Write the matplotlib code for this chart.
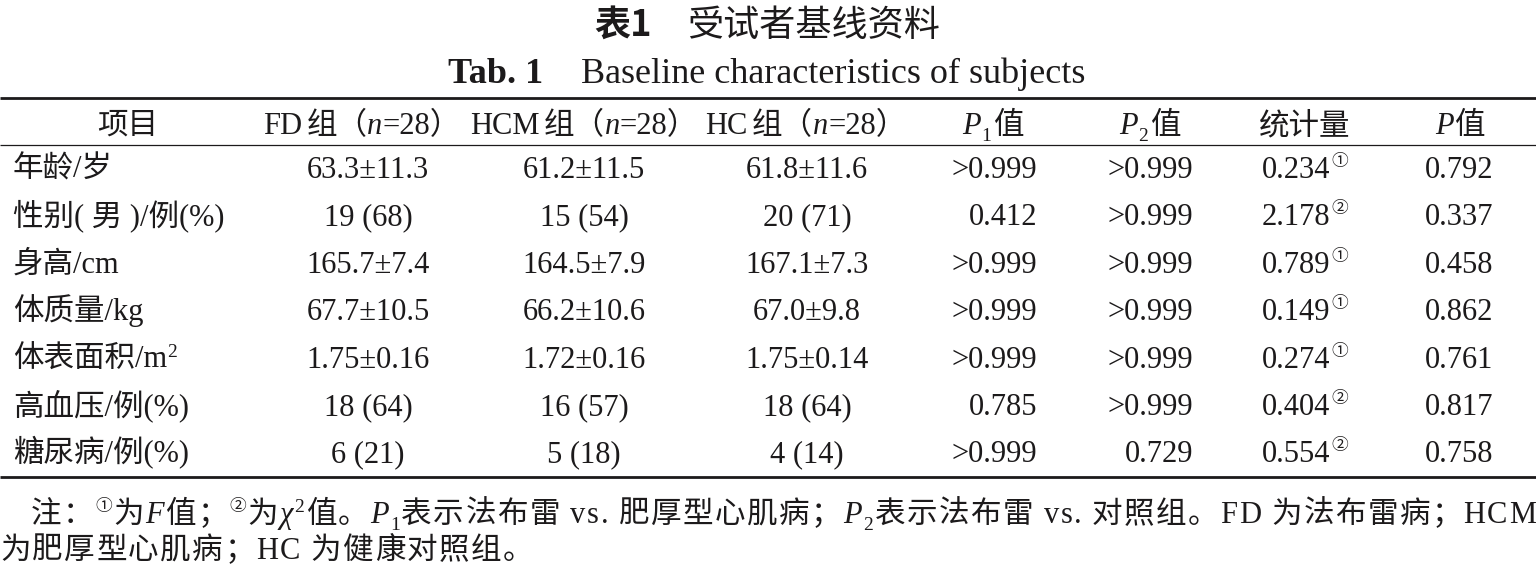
import matplotlib
matplotlib.use("Agg")
import matplotlib.pyplot as plt

# ---- table content ----
TITLE_CN = ("表1", "受试者基线资料")
TITLE_EN = ("Tab. 1", "Baseline characteristics of subjects")

ITEMS = ["年龄/岁", "性别( 男 )/例(%)", "身高/cm", "体质量/kg",
         "体表面积/m", "高血压/例(%)", "糖尿病/例(%)"]
ITEM_SUP = ["", "", "", "", "2", "", ""]

FD = ["63.3±11.3", "19 (68)", "165.7±7.4", "67.7±10.5", "1.75±0.16", "18 (64)", "6 (21)"]
HCM = ["61.2±11.5", "15 (54)", "164.5±7.9", "66.2±10.6", "1.72±0.16", "16 (57)", "5 (18)"]
HC = ["61.8±11.6", "20 (71)", "167.1±7.3", "67.0±9.8", "1.75±0.14", "18 (64)", "4 (14)"]
P1 = [">0.999", "0.412", ">0.999", ">0.999", ">0.999", "0.785", ">0.999"]
P2 = [">0.999", ">0.999", ">0.999", ">0.999", ">0.999", ">0.999", "0.729"]
STAT = ["0.234", "2.178", "0.789", "0.149", "0.274", "0.404", "0.554"]
STAT_MARK = ["①", "②", "①", "①", "①", "②", "②"]
PVAL = ["0.792", "0.337", "0.458", "0.862", "0.761", "0.817", "0.758"]

N_GROUP = "28"

NOTE_1 = [("注：", "rm"), ("①", "mark"), ("为", "rm"), ("F", "it"), ("值；", "rm"),
          ("②", "mark"), ("为", "rm"), ("χ", "it"), ("2", "sup"), ("值。", "rm"),
          ("P", "it"), ("1", "sub"), ("表示法布雷 vs. 肥厚型心肌病；", "rm"),
          ("P", "it"), ("2", "sub"), ("表示法布雷 vs. 对照组。FD 为法布雷病；HCM", "rm")]
NOTE_2 = [("为肥厚型心肌病；HC 为健康对照组。", "rm")]

# ---- styles ----
INK = "#1c1a1b"
FAM = ["Liberation Serif", "Noto Sans CJK SC"]
BODY = 22
ST = {
    "rm": dict(family=FAM, size=BODY),
    "it": dict(family=FAM, size=BODY, style="italic"),
    "sub": dict(family=FAM, size=14),
    "sup": dict(family=FAM, size=14),
    "mark": dict(family=["Noto Sans CJK SC"], size=12, weight="light"),
    "t_bold": dict(family=["Noto Sans CJK SC"], size=26, weight="bold"),
    "t_rm": dict(family=["Noto Sans CJK SC"], size=26, weight="light"),
    "e_bold": dict(family=FAM, size=26, weight="bold"),
    "e_rm": dict(family=FAM, size=26),
}
OFFS = {"sub": -7, "sup": 11, "mark": 12}

W, H = 1536, 577
fig = plt.figure(figsize=(W / 100, H / 100), dpi=100)
ax = fig.add_axes([0, 0, 1, 1])
ax.set_xlim(0, W)
ax.set_ylim(H, 0)
ax.axis("off")
renderer = fig.canvas.get_renderer()


def runs(x, y, parts, ha="left", track=0.0, width=None):
    """draw one line of styled pieces; a number in parts is a gap in px.
    track = extra px between characters; width = justify line to this width"""
    items = []
    for p in parts:
        if isinstance(p, (int, float)):
            items.append((None, p))
            continue
        s, st = p
        chunks = list(s) if (track or width) else [s]
        for c in chunks:
            t = ax.text(0, y - OFFS.get(st, 0), c, ha="left", va="baseline",
                        color=INK, **ST[st])
            items.append((t, t.get_window_extent(renderer).width))
    natural = sum(w for _, w in items)
    if width is not None:
        track = (width - natural) / max(len(items) - 1, 1)
    total = natural + track * (len(items) - 1)
    x0 = x - {"left": 0, "center": total / 2, "right": total}[ha]
    for a, w in items:
        if a is not None:
            a.set_x(x0)
        x0 += w + track
    return track


# titles
runs(767, 36, [(TITLE_CN[0], "t_bold"), 36, (TITLE_CN[1], "t_rm")], ha="center")
runs(767, 83, [(TITLE_EN[0], "e_bold"), 38, (TITLE_EN[1], "e_rm")], ha="center")

# rules
ax.hlines(98, 0, W, color=INK, lw=2.0)
ax.hlines(145, 0, W, color=INK, lw=0.9)
ax.hlines(477, 0, W, color=INK, lw=2.0)

# header
yh = 134
runs(128, yh, [("项目", "rm")], ha="center")
for xc, g in [(362, "FD"), (584, "HCM"), (806, "HC")]:
    runs(xc, yh, [(g, "rm"), 4, ("组（", "rm"), ("n", "it"), ("=" + N_GROUP + "）", "rm")],
         ha="center")
runs(993, yh, [("P", "it"), ("1", "sub"), 2, ("值", "rm")], ha="center")
runs(1150, yh, [("P", "it"), ("2", "sub"), 2, ("值", "rm")], ha="center")
runs(1305, yh, [("统计量", "rm")], ha="center")
runs(1460, yh, [("P", "it"), ("值", "rm")], ha="center")

# body rows
y0, dy = 178, 47.4
for i in range(len(ITEMS)):
    y = y0 + i * dy
    lab = [(ITEMS[i], "rm")]
    if ITEM_SUP[i]:
        lab.append((ITEM_SUP[i], "sup"))
    runs(13, y, lab)
    runs(368, y, [(FD[i], "rm")], ha="center")
    runs(584, y, [(HCM[i], "rm")], ha="center")
    runs(807, y, [(HC[i], "rm")], ha="center")
    runs(1037, y, [(P1[i], "rm")], ha="right")
    runs(1193, y, [(P2[i], "rm")], ha="right")
    runs(1262, y, [(STAT[i], "rm"), 1, (STAT_MARK[i], "mark")])
    runs(1459, y, [(PVAL[i], "rm")], ha="center")

# notes, justified like the printed page
tr = runs(31, 523, NOTE_1, width=W - 31)
runs(0, 559, NOTE_2, track=tr)

fig.savefig("out.png", dpi=100)
